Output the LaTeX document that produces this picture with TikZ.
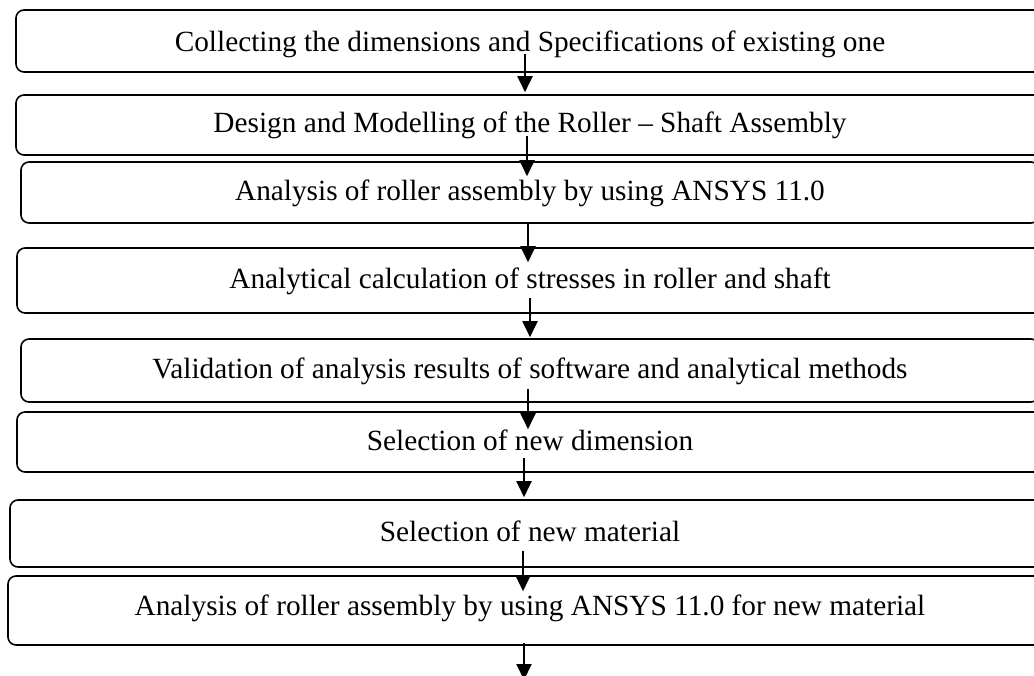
\documentclass[tikz,border=0pt]{standalone}
\usepackage{fontspec}
\setmainfont{Liberation Serif}
\usetikzlibrary{arrows.meta}
\tikzset{
    stage/.style={draw,line width=1.6pt,rounded corners=8pt,inner sep=0pt,
        text height=16pt,text depth=0pt,font=\fontsize{29.3}{34}\selectfont},
    flow/.style={line width=2pt,-{Triangle[length=16pt,width=15pt]}}
}
\begin{document}
\begin{tikzpicture}[x=1pt,y=-1pt]
            \useasboundingbox (0,0) rectangle (1034,676);
            \clip (0,0) rectangle (1034,676);
            % stages
            \node[stage,minimum width=1028,minimum height=62,text height=22pt] (b1) at (530,41) {Collecting the dimensions and Specifications of existing one};
            \node[stage,minimum width=1028,minimum height=60] (b2) at (530,125) {Design and Modelling of the Roller -- Shaft Assembly};
            \node[stage,minimum width=1018,minimum height=61] (b3) at (530,192.5) {Analysis of roller assembly by using ANSYS 11.0};
            \node[stage,minimum width=1026,minimum height=65] (b4) at (530,280.5) {Analytical calculation of stresses in roller and shaft};
            \node[stage,minimum width=1018,minimum height=63] (b5) at (530,370.5) {Validation of analysis results of software and analytical methods};
            \node[stage,minimum width=1026,minimum height=60] (b6) at (530,442) {Selection of new dimension};
            \node[stage,minimum width=1040,minimum height=67,text height=15pt] (b7) at (530,533.5) {Selection of new material};
            \node[stage,minimum width=1044,minimum height=69,text height=9pt] (b8) at (530,610.5) {Analysis of roller assembly by using ANSYS 11.0 for new material};
            \coordinate (out) at (524,680);
            % arrows
            \draw[flow] ([shift={(-5,-19)}]b1.south) -- ([shift={(-5,-2)}]b2.north);
            \draw[flow] ([shift={(-3,-20)}]b2.south) -- ([shift={(-3,15)}]b3.north);
            \draw[flow] ([shift={(-2,0)}]b3.south) -- ([shift={(-2,15)}]b4.north);
            \draw[flow] ([shift={(0,-16)}]b4.south) -- ([shift={(0,-1)}]b5.north);
            \draw[flow] ([shift={(-2,-14)}]b5.south) -- ([shift={(-2,18)}]b6.north);
            \draw[flow] ([shift={(-6,-15)}]b6.south) -- ([shift={(-6,-2)}]b7.north);
            \draw[flow] ([shift={(-7,-17)}]b7.south) -- ([shift={(-7,16)}]b8.north);
            \draw[flow] ([shift={(-6,-3)}]b8.south) -- (out);
\end{tikzpicture}
\end{document}
